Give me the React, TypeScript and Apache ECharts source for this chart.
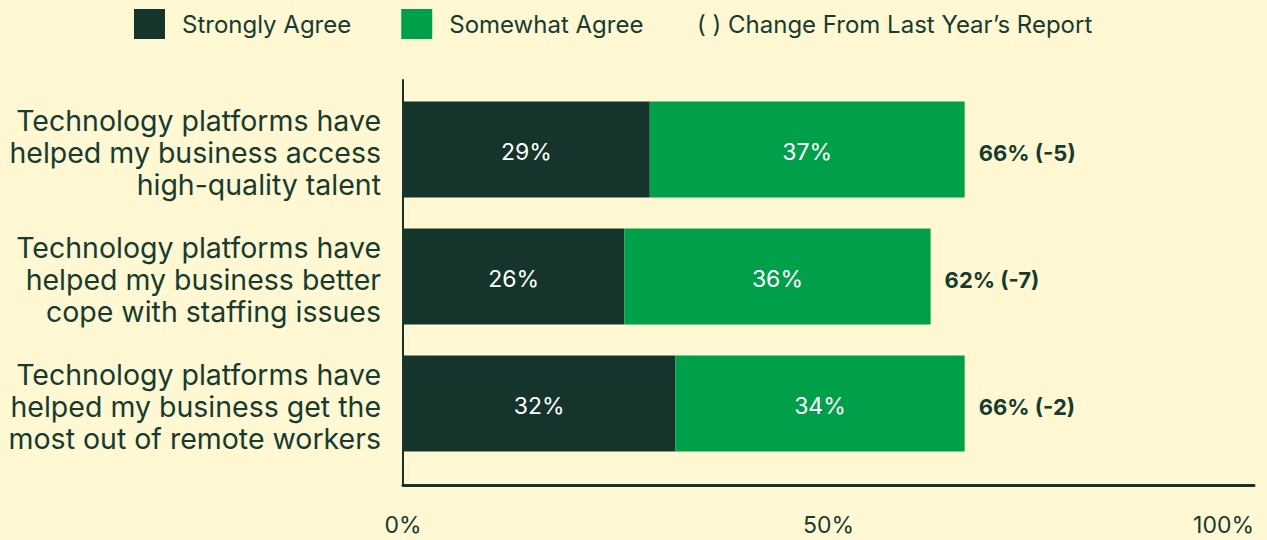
import React, { useEffect, useRef } from "react";
import * as echarts from "echarts";

const categories = [
  "Technology platforms have\nhelped my business access\nhigh-quality talent",
  "Technology platforms have\nhelped my business better\ncope with staffing issues",
  "Technology platforms have\nhelped my business get the\nmost out of remote workers",
];
const stronglyAgree = [29, 26, 32];
const somewhatAgree = [37, 36, 34];
const changeFromLastYear = [-5, -7, -2];
const xTicks = [0, 50, 100];

const DARK = "#15342B";
const GREEN = "#00A04B";
const BG = "#FFF8D3";
const TEXT = "#173B30";
const FONT = "Inter";

export default function App() {
  const ref = useRef<HTMLDivElement>(null);
  useEffect(() => {
    if (!ref.current) return;
    document.body.style.margin = "0";
    document.body.style.background = BG;
    const chart = echarts.init(ref.current, null, { renderer: "svg" });
    const totals = stronglyAgree.map((v, i) => v + somewhatAgree[i]);
    chart.setOption({
      animation: false,
      backgroundColor: BG,
      textStyle: { fontFamily: FONT, color: TEXT },
      legend: {
        data: ["Strongly Agree", "Somewhat Agree"],
        left: 134,
        top: 9,
        padding: 0,
        itemWidth: 31,
        itemHeight: 30,
        itemGap: 50,
        icon: "rect",
        textStyle: { fontSize: 24, color: TEXT, fontFamily: FONT, padding: [0, 0, 0, 12] },
      },
      graphic: [
        {
          type: "text",
          left: 697,
          top: 12,
          style: { text: "( ) Change From Last Year\u2019s Report", fontSize: 24, fill: TEXT, fontFamily: FONT },
        },
      ],
      grid: [
        { left: 403, right: 13, top: 86, bottom: 73 },
        { left: 403, right: 13, top: 80, bottom: 55 },
      ],
      xAxis: [
        { gridIndex: 0, type: "value", min: 0, max: 100, show: false },
        {
          gridIndex: 1,
          type: "value",
          min: xTicks[0],
          max: xTicks[xTicks.length - 1],
          interval: 50,
          axisLine: { show: true, lineStyle: { color: DARK, width: 3 } },
          axisTick: { show: false },
          splitLine: { show: false },
          axisLabel: {
            formatter: "{value}%",
            fontSize: 23,
            color: TEXT,
            fontFamily: FONT,
            margin: 28,
            alignMaxLabel: "right",
          },
        },
      ],
      yAxis: [
        {
          gridIndex: 0,
          type: "category",
          inverse: true,
          data: categories,
          axisLine: { show: false },
          axisTick: { show: false },
          axisLabel: {
            margin: 22,
            align: "right",
            formatter: (v: string) =>
              "{s| }\n" + v.split("\n").map((l) => `{a|${l}}`).join("\n"),
            rich: {
              s: { fontSize: 1, lineHeight: 6 },
              a: { fontSize: 28.5, lineHeight: 32, color: TEXT, fontFamily: FONT, align: "right" },
            },
          },
        },
        {
          gridIndex: 1,
          type: "value",
          min: 0,
          max: 1,
          axisLine: { show: true, lineStyle: { color: DARK, width: 2 } },
          axisTick: { show: false },
          axisLabel: { show: false },
          splitLine: { show: false },
        },
      ],
      series: [
        {
          name: "Strongly Agree",
          type: "bar",
          stack: "a",
          xAxisIndex: 0,
          yAxisIndex: 0,
          barWidth: 96,
          data: stronglyAgree,
          itemStyle: { color: DARK },
          label: { show: true, position: "inside", offset: [0, 2], formatter: "{c}%", color: "#FFFFFF", fontSize: 23, fontFamily: FONT },
        },
        {
          name: "Somewhat Agree",
          type: "bar",
          stack: "a",
          xAxisIndex: 0,
          yAxisIndex: 0,
          barWidth: 96,
          data: somewhatAgree,
          itemStyle: { color: GREEN },
          label: { show: true, position: "inside", offset: [0, 2], formatter: "{c}%", color: "#FFFFFF", fontSize: 23, fontFamily: FONT },
        },
        {
          name: "Total",
          type: "bar",
          xAxisIndex: 0,
          yAxisIndex: 0,
          barWidth: 96,
          barGap: "-100%",
          z: 1,
          data: totals,
          itemStyle: { color: "rgba(0,0,0,0)" },
          label: {
            show: true,
            position: "right",
            distance: 14,
            offset: [0, 3],
            formatter: (p: any) => `${p.value}% (${changeFromLastYear[p.dataIndex]})`,
            color: TEXT,
            fontSize: 22,
            fontWeight: "bold",
            fontFamily: FONT,
          },
        },
      ],
    });
    return () => chart.dispose();
  }, []);
  return <div ref={ref} style={{ width: 1267, height: 540 }} />;
}
